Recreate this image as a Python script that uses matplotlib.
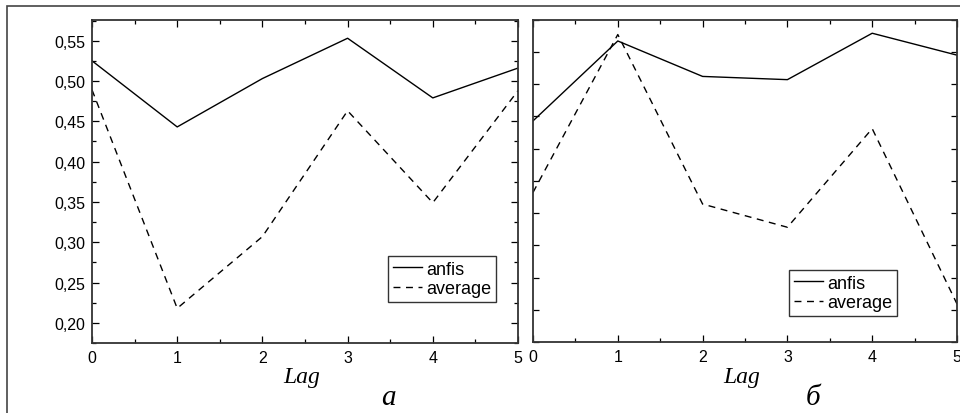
import matplotlib.pyplot as plt
from matplotlib.ticker import MultipleLocator, FuncFormatter
from matplotlib.patches import Rectangle

lag = [0, 1, 2, 3, 4, 5]

# panel a
anfis_a = [0.525, 0.443, 0.503, 0.553, 0.479, 0.516]
average_a = [0.489, 0.218, 0.307, 0.463, 0.349, 0.488]

# panel б (no y labels in the source, units arbitrary)
anfis_b = [0.393, 0.517, 0.462, 0.457, 0.529, 0.495]
average_b = [0.282, 0.527, 0.264, 0.228, 0.381, 0.109]

W, H = 960, 414
fig = plt.figure(figsize=(W / 100, H / 100), dpi=100)
plt.rcParams['font.family'] = ['Liberation Sans', 'DejaVu Sans']

# outer frame, clipped at right and bottom like the scan
fig.patches.append(Rectangle((7 / W, -0.05), 1.2, 1 - 7 / H + 0.05,
                             transform=fig.transFigure, fill=False,
                             edgecolor='#444444', linewidth=1.2))

ax1 = fig.add_axes([92 / W, (H - 344) / H, 426 / W, 323.3 / H])
ax2 = fig.add_axes([533 / W, (H - 343) / H, 424 / W, 322.3 / H])

comma = FuncFormatter(lambda v, p: ('%.2f' % v).replace('.', ','))

for ax, a, b in [(ax1, anfis_a, average_a), (ax2, anfis_b, average_b)]:
    ax.plot(lag, a, color='black', linewidth=1.0, label='anfis')
    ax.plot(lag, b, color='black', linewidth=1.0, linestyle=(0, (5, 4)),
            label='average')
    ax.set_xlim(0, 5)
    ax.xaxis.set_major_locator(MultipleLocator(1))
    ax.xaxis.set_minor_locator(MultipleLocator(0.5))
    ax.tick_params(which='both', direction='in', top=True, right=True,
                   labelsize=11.5, colors='black', width=0.9)
    ax.tick_params(which='major', length=5, pad=5)
    ax.tick_params(which='minor', length=3)
    for s in ax.spines.values():
        s.set_color('#333333')
        s.set_linewidth(1.3)
    leg = ax.legend(frameon=True, fancybox=False, edgecolor='black',
                    fontsize=13, handlelength=1.65, handletextpad=0.2,
                    borderpad=0.25, labelspacing=0.15, borderaxespad=0,
                    loc='lower left')
    leg.get_frame().set_linewidth(1.0)

ax1.set_ylim(0.175, 0.576)
ax1.yaxis.set_major_locator(MultipleLocator(0.05))
ax1.yaxis.set_minor_locator(MultipleLocator(0.025))
ax1.yaxis.set_major_formatter(comma)
ax1.legend_.set_bbox_to_anchor((388 / W, (H - 303) / H), transform=fig.transFigure)

ax2.set_ylim(0.05, 0.55)
ax2.yaxis.set_major_locator(MultipleLocator(0.05))
ax2.yaxis.set_minor_locator(MultipleLocator(0.05))
ax2.tick_params(axis='y', which='major', length=4, labelleft=False)
ax2.legend_.set_bbox_to_anchor((789 / W, (H - 317) / H), transform=fig.transFigure)

serif = ['Liberation Serif', 'DejaVu Serif']
fig.text(302 / W, 1 - 378 / H, 'Lag', family=serif, style='italic',
         fontsize=17, ha='center', va='center')
fig.text(388 / W, 1 - 398 / H, 'а', family=serif, style='italic',
         fontsize=21, ha='center', va='center')
fig.text(742 / W, 1 - 378 / H, 'Lag', family=serif, style='italic',
         fontsize=17, ha='center', va='center')
fig.text(813 / W, 1 - 398 / H, 'б', family=serif, style='italic',
         fontsize=21, ha='center', va='center')

fig.savefig('out.png', dpi=100)
